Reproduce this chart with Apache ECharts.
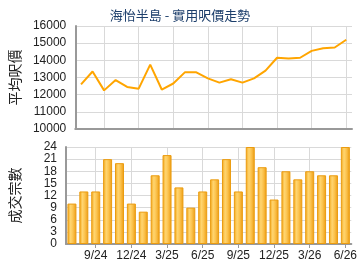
<!DOCTYPE html>
<html>
<head>
<meta charset="utf-8">
<script src="https://cdn.jsdelivr.net/npm/echarts@6/dist/echarts.min.js"></script>
<style>
html,body{margin:0;padding:0;background:#fff;}
#chart{width:360px;height:270px;}
</style>
</head>
<body>
<div id="chart"></div>
<script>
// 2024年7月 至 2026年6月
var months = ['7/24','8/24','9/24','10/24','11/24','12/24','1/25','2/25','3/25','4/25','5/25','6/25',
              '7/25','8/25','9/25','10/25','11/25','12/25','1/26','2/26','3/26','4/26','5/26','6/26'];
// 平均呎價
var avgPrice = [12600,13350,12250,12850,12450,12350,13750,12300,12650,13300,13300,12950,
                12700,12900,12700,12950,13400,14150,14100,14150,14550,14700,14750,15200];
// 成交宗數
var dealCount = [10,13,13,21,20,10,8,17,22,14,9,13,16,21,13,24,19,11,18,16,18,17,17,24];

var showEvery3 = function(idx){ return idx % 3 === 2; };
var plainNum = function(v){ return String(v); };
var fontStack = '"Liberation Sans","DejaVu Sans","Noto Sans CJK TC",sans-serif';
var gridColor = '#d9d9d9';

var myChart = echarts.init(document.getElementById('chart'));
myChart.setOption({
    animation: false,
    textStyle: { fontFamily: fontStack },
    title: {
        text: '海怡半島 - 實用呎價走勢',
        left: 'center',
        top: 4,
        textStyle: { fontSize: 13, fontWeight: 'normal', color: '#1c3e6b', fontFamily: '"Noto Sans CJK TC",sans-serif' }
    },
    grid: [
        { left: 65, right: 8, top: 26, height: 103 },
        { left: 65, right: 8, top: 147, height: 97 }
    ],
    xAxis: [
        {
            type: 'category', gridIndex: 0, data: months, boundaryGap: true,
            axisLine: { lineStyle: { color: '#999', width: 2 } },
            axisTick: { show: false },
            axisLabel: { show: false, interval: showEvery3 },
            splitLine: { show: true, alignWithLabel: true, interval: showEvery3, lineStyle: { color: gridColor } }
        },
        {
            type: 'category', gridIndex: 1, data: months, boundaryGap: true,
            axisLine: { lineStyle: { color: '#999', width: 2 } },
            axisTick: { show: true, alignWithLabel: true, interval: showEvery3, length: 4, lineStyle: { color: '#999' } },
            axisLabel: { interval: showEvery3, color: '#222', fontSize: 12, margin: 6 },
            splitLine: { show: true, alignWithLabel: true, interval: showEvery3, lineStyle: { color: gridColor } }
        }
    ],
    yAxis: [
        {
            type: 'value', gridIndex: 0, min: 10000, max: 16000, interval: 1000,
            name: '平均呎價', nameLocation: 'middle', nameGap: 46, nameRotate: 90,
            nameTextStyle: { fontSize: 14, color: '#222', fontFamily: '"Noto Sans CJK TC",sans-serif' },
            axisLine: { show: true, lineStyle: { color: '#999', width: 2 } },
            axisTick: { show: false },
            axisLabel: { color: '#222', fontSize: 12, margin: 9, formatter: plainNum },
            splitLine: { lineStyle: { color: gridColor } }
        },
        {
            type: 'value', gridIndex: 1, min: 0, max: 24, interval: 3,
            name: '成交宗數', nameLocation: 'middle', nameGap: 44, nameRotate: 90,
            nameTextStyle: { fontSize: 14, color: '#222', fontFamily: '"Noto Sans CJK TC",sans-serif' },
            axisLine: { show: true, lineStyle: { color: '#999', width: 2 } },
            axisTick: { show: false },
            axisLabel: { color: '#222', fontSize: 12, margin: 9, formatter: plainNum },
            splitLine: { lineStyle: { color: gridColor } }
        }
    ],
    series: [
        {
            name: '平均呎價', type: 'line', xAxisIndex: 0, yAxisIndex: 0,
            data: avgPrice, symbol: 'none',
            lineStyle: { color: '#ffa500', width: 2 }
        },
        {
            name: '成交宗數', type: 'bar', xAxisIndex: 1, yAxisIndex: 1,
            data: dealCount, barWidth: 9,
            itemStyle: {
                borderColor: '#eb9c10', borderWidth: 1,
                color: new echarts.graphic.LinearGradient(0, 0, 1, 0, [
                    { offset: 0, color: '#f2a516' },
                    { offset: 0.35, color: '#ffd570' },
                    { offset: 0.6, color: '#fcc450' },
                    { offset: 1, color: '#eb9a10' }
                ])
            }
        }
    ]
});
</script>
</body>
</html>
